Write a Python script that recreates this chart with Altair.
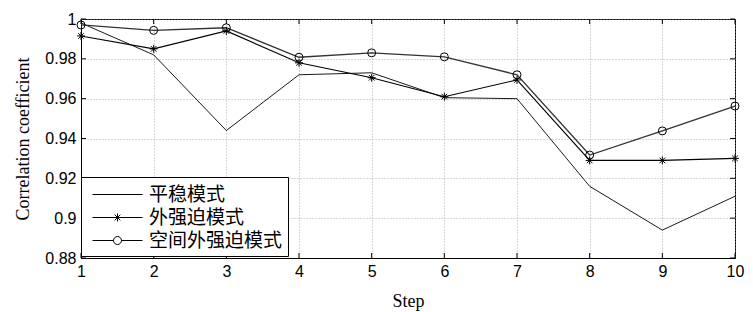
import altair as alt
import pandas as pd

steps = [1, 2, 3, 4, 5, 6, 7, 8, 9, 10]
series_names = ["平稳模式", "外强迫模式", "空间外强迫模式"]
plain = [0.998, 0.982, 0.944, 0.972, 0.973, 0.9605, 0.960, 0.916, 0.894, 0.911]
forced = [0.9915, 0.985, 0.994, 0.978, 0.9705, 0.961, 0.9694, 0.929, 0.929, 0.930]
spatial = [0.997, 0.9943, 0.9956, 0.9808, 0.983, 0.981, 0.972, 0.9317, 0.9438, 0.9563]
x_ticks = [1, 2, 3, 4, 5, 6, 7, 8, 9, 10]
y_ticks = [0.88, 0.9, 0.92, 0.94, 0.96, 0.98, 1.0]

W, H = 654, 239

rows = []
for name, vals in zip(series_names, [plain, forced, spatial]):
    for s, v in zip(steps, vals):
        rows.append({"Step": s, "value": v, "series": name})
df = pd.DataFrame(rows)

xscale = alt.Scale(domain=[1, 10], nice=False)
yscale = alt.Scale(domain=[0.88, 1.0], nice=False)
xaxis = alt.Axis(values=x_ticks, title="Step", format="d", labelOverlap=False)
yaxis = alt.Axis(values=y_ticks, title="Correlation coefficient", format=".2~f",
                 labelOverlap=False)

base = alt.Chart(df)

lines = base.mark_line().encode(
    x=alt.X("Step:Q", scale=xscale, axis=xaxis),
    y=alt.Y("value:Q", scale=yscale, axis=yaxis),
    color=alt.Color("series:N", scale=alt.Scale(domain=series_names,
                                                 range=["#000000", "#000000", "#333333"]),
                    legend=None),
    strokeWidth=alt.StrokeWidth("series:N", scale=alt.Scale(domain=series_names,
                                                             range=[0.9, 1.3, 1.0]),
                                legend=None),
    detail="series:N",
)

STAR = "M-1,0H1M0,-1V1M-0.7,-0.7L0.7,0.7M-0.7,0.7L0.7,-0.7"
points = base.transform_filter(
    alt.datum.series != "平稳模式"
).mark_point(filled=False, color="black", strokeWidth=1, size=64, opacity=1).encode(
    x=alt.X("Step:Q", scale=xscale, axis=xaxis),
    y=alt.Y("value:Q", scale=yscale, axis=yaxis),
    shape=alt.Shape("series:N", scale=alt.Scale(domain=series_names[1:],
                                                 range=[STAR, "circle"]),
                    legend=None),
)

LEG_PLAIN = "M-5,0H5"
LEG_STAR = "M-5,0H5M-0.8,0H0.8M0,-0.8V0.8M-0.57,-0.57L0.57,0.57M-0.57,0.57L0.57,-0.57"
LEG_CIRC = "M-5,0H-0.8M0.8,0H5M0.8,0A0.8,0.8 0 1,1 -0.8,0A0.8,0.8 0 1,1 0.8,0"

legend_layer = base.mark_point(filled=False, color="black", strokeWidth=1, opacity=0).encode(
    x=alt.X("Step:Q", scale=xscale, axis=xaxis),
    y=alt.Y("value:Q", scale=yscale, axis=yaxis),
    shape=alt.Shape("series:N",
                    scale=alt.Scale(domain=series_names, range=[LEG_PLAIN, LEG_STAR, LEG_CIRC]),
                    legend=alt.Legend(title=" ", titleFontSize=1, titlePadding=2,
                                      orient="none", legendX=0, legendY=158,
                                      symbolSize=100, symbolOpacity=1,
                                      symbolStrokeColor="black", symbolStrokeWidth=1,
                                      symbolFillColor="transparent",
                                      symbolOffset=22, labelOffset=22,
                                      labelFont="Noto Sans CJK SC", labelFontSize=19,
                                      labelColor="black", rowPadding=3, padding=5,
                                      strokeColor="black", fillColor="white",
                                      labelLimit=300)),
)

tick_df_x = pd.DataFrame({"t": x_ticks})
tick_df_y = pd.DataFrame({"t": y_ticks})
tx_bottom = alt.Chart(tick_df_x).mark_rule(color="black", strokeWidth=1).encode(
    x=alt.X("t:Q", scale=xscale, axis=xaxis), y=alt.value(H), y2=alt.value(H - 5))
tx_top = alt.Chart(tick_df_x).mark_rule(color="black", strokeWidth=1).encode(
    x=alt.X("t:Q", scale=xscale, axis=xaxis), y=alt.value(0), y2=alt.value(5))
ty_left = alt.Chart(tick_df_y).mark_rule(color="black", strokeWidth=1).encode(
    y=alt.Y("t:Q", scale=yscale, axis=yaxis), x=alt.value(0), x2=alt.value(5))
ty_right = alt.Chart(tick_df_y).mark_rule(color="black", strokeWidth=1).encode(
    y=alt.Y("t:Q", scale=yscale, axis=yaxis), x=alt.value(W), x2=alt.value(W - 5))

chart = alt.layer(
    lines, points, legend_layer, tx_bottom, tx_top, ty_left, ty_right
).resolve_scale(
    shape="independent"
).properties(
    width=W, height=H,
    autosize=alt.AutoSizeParams(type="none"),
    padding={"left": 81, "top": 19, "right": 18, "bottom": 54},
    background="white",
).configure_view(
    stroke="black", strokeWidth=1
).configure_axis(
    domainColor="black", domainWidth=1,
    grid=True, gridColor="#9a9a9a", gridDash=[1, 2], gridWidth=0.8,
    ticks=False, tickSize=0,
    labelFont="Liberation Sans", labelFontSize=16, labelColor="black", labelPadding=5,
    titleFont="Liberation Serif", titleFontSize=18, titleFontWeight="normal", titleColor="black",
).configure_axisX(
    labelFlush=False, titlePadding=13,
).configure_axisY(
    titlePadding=12,
)

chart.save("out.html", embed_options={"renderer": "svg", "actions": False})
